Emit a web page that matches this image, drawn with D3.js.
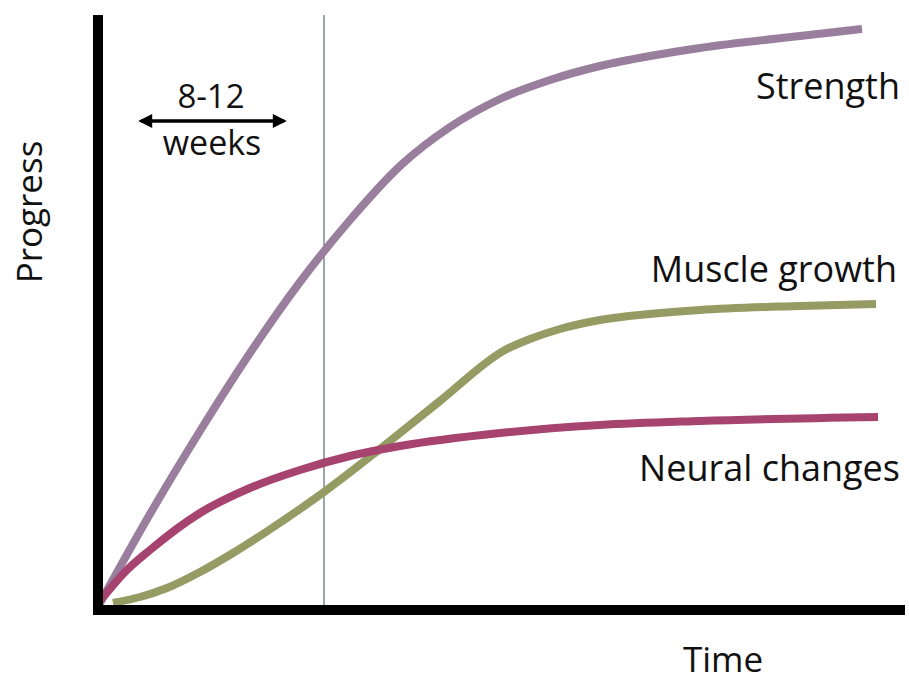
<!DOCTYPE html>
<html>
<head>
<meta charset="utf-8">
<script src="https://cdn.jsdelivr.net/npm/d3@7"></script>
<style>
  body { margin: 0; background: #fff; }
  text { font-family: "Open Sans", "Noto Sans", sans-serif; fill: #111; }
</style>
</head>
<body>
<div id="chart"></div>
<script>
var width = 909;
var height = 681;

// values (arbitrary time / progress units)
var strengthX = [0, 5, 10, 15, 20, 25, 30, 35, 40, 45, 50, 55, 60, 70, 76.2];
var strengthY = [0.2, 9.1, 17.4, 25.2, 32.3, 38.5, 43.9, 47.8, 50.6, 52.5, 53.9, 54.9, 55.7, 56.9, 57.6];

var neuralX = [0, 2.5, 5, 10, 15, 20, 25, 30, 40, 50, 60, 77.8];
var neuralY = [0.4, 3.3, 5.5, 9.2, 11.7, 13.5, 14.9, 15.9, 17.2, 18, 18.4, 18.8];

var muscleX = [1.3, 4, 6.7, 10, 13.3, 16.6, 20, 22.4, 28, 34, 40.5, 43, 46, 50, 55, 60, 70, 77.6];
var muscleY = [0.2, 0.8, 1.7, 3.3, 5.2, 7.3, 9.6, 11.3, 15.6, 20.4, 25.5, 26.6, 27.6, 28.5, 29.1, 29.5, 29.9, 30.1];

var markerWeek = 22.4;

var series = [
    { name: 'Strength', xs: strengthX, ys: strengthY, color: '#9a7e9e' },
    { name: 'Muscle growth', xs: muscleX, ys: muscleY, color: '#959c63' },
    { name: 'Neural changes', xs: neuralX, ys: neuralY, color: '#a6436f' }
];

var svg = d3.select('#chart').append('svg')
    .attr('width', width)
    .attr('height', height);

var x = d3.scaleLinear().domain([0, 78]).range([100, 880]);
var y = d3.scaleLinear().domain([0, 58]).range([605, 25]);

// thin marker line at 8-12 weeks
svg.append('line')
    .attr('x1', x(markerWeek)).attr('x2', x(markerWeek))
    .attr('y1', 15).attr('y2', 606)
    .attr('stroke', '#7d8a8c')
    .attr('stroke-width', 1.5);

var line = d3.line()
    .x(d => x(d[0]))
    .y(d => y(d[1]))
    .curve(d3.curveMonotoneX);

svg.selectAll('.curve')
    .data(series)
    .enter()
    .append('path')
    .attr('class', 'curve')
    .attr('d', d => line(d.xs.map((v, i) => [v, d.ys[i]])))
    .attr('fill', 'none')
    .attr('stroke', d => d.color)
    .attr('stroke-width', 8);

// axes
svg.append('line')
    .attr('x1', 98).attr('x2', 98)
    .attr('y1', 15).attr('y2', 615)
    .attr('stroke', '#000')
    .attr('stroke-width', 10);
svg.append('line')
    .attr('x1', 93).attr('x2', 905)
    .attr('y1', 610).attr('y2', 610)
    .attr('stroke', '#000')
    .attr('stroke-width', 10);

// labels
svg.append('text').attr('x', 900).attr('y', 99).attr('text-anchor', 'end')
    .style('font-size', '36px').text('Strength');
svg.append('text').attr('x', 897).attr('y', 282).attr('text-anchor', 'end')
    .style('font-size', '36px').text('Muscle growth');
svg.append('text').attr('x', 900).attr('y', 481).attr('text-anchor', 'end')
    .style('font-size', '36px').text('Neural changes');
svg.append('text').attr('x', 723).attr('y', 672).attr('text-anchor', 'middle')
    .style('font-size', '35px').text('Time');
svg.append('text')
    .attr('transform', 'translate(42,212) rotate(-90)')
    .attr('text-anchor', 'middle')
    .style('font-size', '35px').text('Progress');

// 8-12 weeks arrow
var defs = svg.append('defs');
defs.append('marker')
    .attr('id', 'arr')
    .attr('viewBox', '0 0 10 10')
    .attr('refX', 8).attr('refY', 5)
    .attr('markerWidth', 4.2).attr('markerHeight', 4)
    .attr('orient', 'auto-start-reverse')
    .append('path')
    .attr('d', 'M0,0 L10,5 L0,10 z')
    .attr('fill', '#000');

svg.append('line')
    .attr('x1', 141).attr('x2', 284)
    .attr('y1', 121).attr('y2', 121)
    .attr('stroke', '#000')
    .attr('stroke-width', 3.5)
    .attr('marker-start', 'url(#arr)')
    .attr('marker-end', 'url(#arr)');

svg.append('text').attr('x', 211).attr('y', 108).attr('text-anchor', 'middle')
    .style('font-size', '33px').text('8-12');
svg.append('text').attr('x', 212).attr('y', 155).attr('text-anchor', 'middle')
    .style('font-size', '34px').text('weeks');
</script>
</body>
</html>
